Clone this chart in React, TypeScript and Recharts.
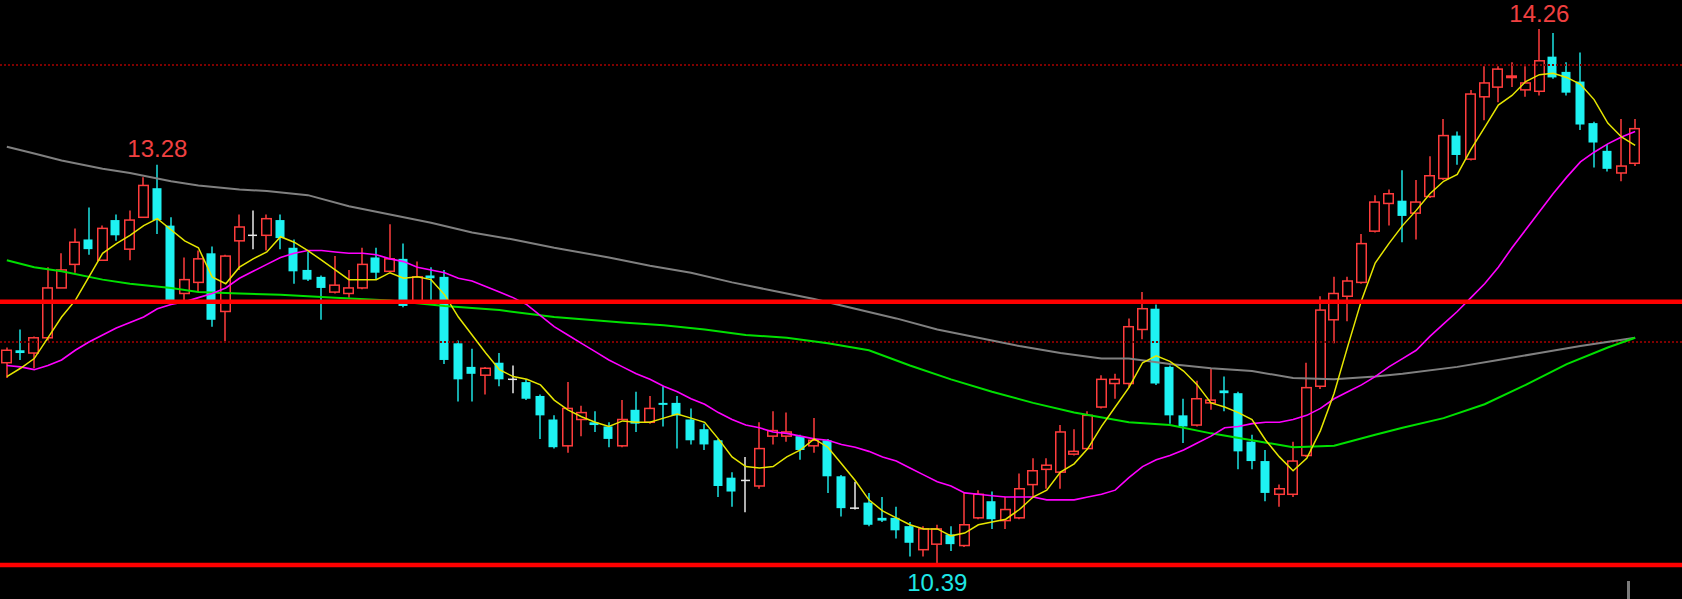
import { ComposedChart, Bar, Line, XAxis, YAxis, ReferenceLine, ReferenceDot } from "recharts";

// daily candles (120 bars)
const opens = [
  11.85, 11.94, 11.92, 12.03, 12.39, 12.56, 12.74, 12.59, 12.88, 12.67, 12.9, 13.11, 12.84, 12.35, 12.43, 12.64, 12.22, 12.73, 12.77, 12.77,
  12.88, 12.68, 12.52, 12.47, 12.36, 12.35, 12.39, 12.61, 12.51, 12.6, 12.29, 12.48, 12.47, 11.99, 11.82, 11.76, 11.85, 11.73, 11.71, 11.61,
  11.44, 11.25, 11.44, 11.42, 11.39, 11.25, 11.51, 11.42, 11.56, 11.56, 11.44, 11.37, 11.29, 11.02, 11.0, 10.96, 11.32, 11.32, 11.32, 11.25,
  11.29, 11.03, 10.8, 10.84, 10.73, 10.73, 10.67, 10.5, 10.54, 10.61, 10.53, 10.73, 10.85, 10.71, 10.73, 10.97, 11.08, 11.06, 11.19, 11.23,
  11.53, 11.7, 11.7, 12.09, 12.24, 11.82, 11.47, 11.4, 11.56, 11.65, 11.63, 11.28, 11.14, 10.9, 10.9, 11.18, 11.68, 12.16, 12.33, 12.43,
  12.8, 13.0, 13.02, 12.93, 13.05, 13.18, 13.49, 13.32, 13.77, 13.84, 13.91, 13.82, 13.81, 14.06, 13.95, 13.88, 13.58, 13.38, 13.22, 13.29,
];
const highs = [
  11.96, 12.09, 12.04, 12.54, 12.64, 12.82, 12.97, 12.84, 12.92, 12.95, 13.19, 13.28, 12.9, 12.61, 12.66, 12.69, 12.63, 12.92, 12.95, 12.92,
  12.92, 12.74, 12.65, 12.48, 12.62, 12.52, 12.68, 12.68, 12.85, 12.71, 12.58, 12.54, 12.52, 12.01, 11.95, 11.82, 11.92, 11.83, 11.73, 11.62,
  11.47, 11.71, 11.54, 11.5, 11.42, 11.58, 11.64, 11.61, 11.68, 11.61, 11.52, 11.41, 11.3, 11.06, 11.17, 11.42, 11.5, 11.49, 11.33, 11.45,
  11.3, 11.04, 10.99, 10.91, 10.88, 10.81, 10.7, 10.67, 10.68, 10.67, 10.91, 10.93, 10.92, 10.88, 11.05, 11.16, 11.16, 11.4, 11.37, 11.5,
  11.76, 11.77, 12.17, 12.36, 12.27, 11.83, 11.59, 11.72, 11.81, 11.75, 11.64, 11.33, 11.22, 10.97, 11.28, 11.85, 12.33, 12.47, 12.47, 12.78,
  13.06, 13.1, 13.24, 13.17, 13.34, 13.61, 13.52, 13.82, 13.99, 13.99, 14.02, 13.99, 14.26, 14.23, 14.02, 14.09, 13.59, 13.43, 13.61, 13.61,
];
const lows = [
  11.74, 11.87, 11.81, 12.01, 12.39, 12.5, 12.63, 12.59, 12.73, 12.59, 12.9, 12.78, 12.29, 12.3, 12.36, 12.11, 12.0, 12.52, 12.67, 12.66,
  12.67, 12.42, 12.44, 12.16, 12.35, 12.32, 12.38, 12.45, 12.51, 12.25, 12.29, 12.3, 11.84, 11.57, 11.57, 11.62, 11.68, 11.63, 11.58, 11.3,
  11.23, 11.2, 11.32, 11.35, 11.24, 11.24, 11.35, 11.41, 11.39, 11.23, 11.26, 11.22, 10.88, 10.81, 10.77, 10.94, 11.26, 11.28, 11.15, 11.2,
  10.91, 10.74, 10.79, 10.67, 10.7, 10.58, 10.45, 10.45, 10.39, 10.49, 10.52, 10.72, 10.65, 10.65, 10.72, 10.88, 10.94, 10.94, 11.18, 11.22,
  11.52, 11.59, 11.67, 12.02, 11.69, 11.41, 11.27, 11.39, 11.51, 11.5, 11.08, 11.08, 10.85, 10.81, 10.88, 11.17, 11.66, 11.99, 12.15, 12.42,
  12.79, 12.84, 12.72, 12.74, 13.04, 13.17, 13.28, 13.31, 13.6, 13.73, 13.84, 13.77, 13.78, 13.9, 13.78, 13.53, 13.26, 13.23, 13.16, 13.27,
];
const closes = [
  11.94, 11.92, 12.03, 12.39, 12.52, 12.72, 12.67, 12.82, 12.77, 12.88, 13.13, 12.88, 12.3, 12.45, 12.6, 12.16, 12.62, 12.83, 12.77, 12.89,
  12.75, 12.51, 12.45, 12.39, 12.41, 12.39, 12.56, 12.5, 12.6, 12.26, 12.47, 12.46, 11.87, 11.73, 11.77, 11.81, 11.73, 11.73, 11.59, 11.47,
  11.24, 11.52, 11.49, 11.4, 11.3, 11.44, 11.41, 11.52, 11.55, 11.47, 11.29, 11.26, 10.96, 10.92, 11.0, 11.23, 11.36, 11.35, 11.22, 11.29,
  11.03, 10.8, 10.8, 10.68, 10.71, 10.64, 10.55, 10.65, 10.65, 10.54, 10.68, 10.9, 10.72, 10.79, 10.94, 11.07, 11.11, 11.35, 11.21, 11.47,
  11.73, 11.73, 12.11, 12.24, 11.7, 11.47, 11.39, 11.59, 11.58, 11.63, 11.21, 11.14, 10.91, 10.94, 11.14, 11.67, 12.23, 12.35, 12.44, 12.71,
  13.01, 13.07, 12.91, 13.01, 13.2, 13.49, 13.35, 13.79, 13.87, 13.97, 13.92, 13.87, 14.03, 13.91, 13.8, 13.57, 13.44, 13.25, 13.27, 13.54,
];

// short average (yellow) and mid average (magenta), one value per bar
const maShort = [
  11.75, 11.81, 11.88, 12.03, 12.18, 12.3, 12.47, 12.64, 12.71, 12.77, 12.84, 12.89, 12.81, 12.73, 12.68, 12.47, 12.42, 12.54, 12.6, 12.65,
  12.76, 12.72, 12.66, 12.59, 12.52, 12.45, 12.45, 12.45, 12.5, 12.46, 12.47, 12.45, 12.34, 12.18, 12.05, 11.92, 11.8, 11.75, 11.73, 11.69,
  11.58, 11.51, 11.46, 11.42, 11.39, 11.43, 11.42, 11.42, 11.45, 11.48, 11.45, 11.42, 11.3, 11.17, 11.1, 11.09, 11.1, 11.17, 11.22, 11.3,
  11.24, 11.12, 11.0, 10.86, 10.78, 10.73, 10.68, 10.65, 10.65, 10.6, 10.62, 10.68, 10.7, 10.72, 10.79, 10.88, 10.93, 11.06, 11.12, 11.23,
  11.39, 11.53, 11.67, 11.85, 11.9, 11.86, 11.79, 11.69, 11.56, 11.53, 11.49, 11.44, 11.29, 11.17, 11.07, 11.16, 11.36, 11.63, 11.97, 12.3,
  12.57, 12.71, 12.84, 12.95, 13.07, 13.16, 13.21, 13.39, 13.55, 13.71, 13.78, 13.88, 13.93, 13.94, 13.91, 13.86, 13.75, 13.58, 13.48, 13.42,
];
const maMid = [
  11.83, 11.82, 11.8, 11.83, 11.87, 11.94, 12.0, 12.05, 12.1, 12.14, 12.18, 12.24, 12.27, 12.29, 12.32, 12.35, 12.39, 12.46, 12.51, 12.56,
  12.61, 12.64, 12.66, 12.66, 12.65, 12.64, 12.64, 12.63, 12.6, 12.58, 12.54, 12.52, 12.5, 12.46, 12.44, 12.4, 12.36, 12.32, 12.27, 12.19,
  12.11, 12.05, 11.99, 11.93, 11.87, 11.82, 11.77, 11.73, 11.68, 11.64, 11.59, 11.55, 11.49, 11.44, 11.4, 11.38, 11.35, 11.34, 11.32, 11.3,
  11.29, 11.26, 11.24, 11.21, 11.17, 11.14, 11.09, 11.04, 10.99, 10.96, 10.91, 10.9, 10.89, 10.88, 10.88, 10.88, 10.86, 10.86, 10.86, 10.88,
  10.9, 10.93, 11.02, 11.1, 11.15, 11.18, 11.22, 11.27, 11.32, 11.38, 11.39, 11.41, 11.42, 11.42, 11.44, 11.47, 11.52, 11.59, 11.64, 11.69,
  11.75, 11.82, 11.88, 11.94, 12.04, 12.13, 12.22, 12.32, 12.42, 12.54, 12.68, 12.81, 12.94, 13.07, 13.19, 13.3, 13.37, 13.43, 13.48, 13.52,
];

// long averages, sampled every few bars: [bar index, value]
const maLong: [number, number][] = [
  [0, 12.59], [2, 12.54], [4, 12.51], [7, 12.45], [9, 12.42], [12, 12.39], [14, 12.36], [17, 12.35], [20, 12.34], [24, 12.32],
  [28, 12.3], [32, 12.26], [36, 12.23], [40, 12.18], [45, 12.14], [48, 12.12], [51, 12.09], [54, 12.05], [57, 12.03], [60, 11.99],
  [63, 11.94], [66, 11.83], [69, 11.73], [72, 11.64], [75, 11.56], [78, 11.49], [82, 11.42], [85, 11.4], [88, 11.34], [91, 11.29],
  [94, 11.24], [97, 11.25], [100, 11.33], [102, 11.38], [105, 11.45], [108, 11.55], [111, 11.69], [114, 11.84], [117, 11.96], [119, 12.03],
];
const maYear: [number, number][] = [
  [0, 13.41], [2, 13.36], [4, 13.31], [7, 13.25], [9, 13.22], [12, 13.16], [14, 13.13], [17, 13.1], [19, 13.09], [22, 13.06],
  [25, 12.98], [28, 12.92], [31, 12.86], [34, 12.79], [37, 12.74], [40, 12.68], [44, 12.61], [47, 12.55], [50, 12.5], [53, 12.43],
  [56, 12.37], [59, 12.31], [62, 12.24], [65, 12.17], [68, 12.09], [71, 12.03], [74, 11.97], [77, 11.92], [80, 11.88], [82, 11.88],
  [85, 11.84], [88, 11.81], [91, 11.79], [94, 11.74], [97, 11.73], [100, 11.75], [102, 11.77], [106, 11.82], [109, 11.87], [112, 11.92],
  [115, 11.97], [119, 12.03],
];

const support = 10.39;
const resistance = 12.29;
const gridLevels = [12, 14];
const highMark = { i: 112, value: 14.26 };
const prevHighMark = { i: 11, value: 13.28 };
const lowMark = { i: 68, value: 10.39 };

const UP = "#ff3c3c";
const DOWN = "#1ef2f2";

const longMap = new Map(maLong);
const yearMap = new Map(maYear);

const rows = opens.map((o, i) => ({
  i,
  open: o,
  high: highs[i],
  low: lows[i],
  close: closes[i],
  range: [lows[i], highs[i]],
  ma5: maShort[i],
  ma20: maMid[i],
  ma60: longMap.get(i) ?? null,
  ma250: yearMap.get(i) ?? null,
}));

function Candle(props: any) {
  const { x, y, width, height, payload } = props;
  const { open, close, high, low } = payload;
  const k = height / (high - low);
  const cx = Math.round(x + width / 2);
  const yo = y + (high - open) * k;
  const yc = y + (high - close) * k;
  const top = Math.min(yo, yc);
  const bot = Math.max(yo, yc);
  const left = Math.round(x);
  const w = Math.round(width);

  if (open === close) {
    return (
      <g>
        <line x1={cx} x2={cx} y1={y} y2={y + height} stroke="#e8e8e8" strokeWidth={1.5} />
        <line x1={left} x2={left + w} y1={yo} y2={yo} stroke="#e8e8e8" strokeWidth={1.5} />
      </g>
    );
  }
  if (close > open) {
    return (
      <g>
        <line x1={cx} x2={cx} y1={y} y2={top} stroke={UP} strokeWidth={1.5} />
        <line x1={cx} x2={cx} y1={bot} y2={y + height} stroke={UP} strokeWidth={1.5} />
        <rect x={left - 0.25} y={top} width={w + 0.5} height={Math.max(1.5, bot - top)} fill="none" stroke={UP} strokeWidth={1.5} />
      </g>
    );
  }
  return (
    <g>
      <line x1={cx} x2={cx} y1={y} y2={y + height} stroke={DOWN} strokeWidth={1.4} />
      <rect x={left - 0.5} y={top} width={w} height={Math.max(2, bot - top)} fill={DOWN} />
    </g>
  );
}

const labelFont = { fontSize: 24, fontFamily: "Liberation Sans, Arial, sans-serif" };

export default function App() {
  return (
    <div style={{ position: "fixed", left: 0, top: 0, width: 1682, height: 599, background: "#000", overflow: "hidden" }}>
      <ComposedChart width={1682} height={599} data={rows} margin={{ top: 0, right: 0, bottom: 0, left: 0 }}>
        <XAxis dataKey="i" type="category" hide padding={{ left: 0, right: 40 }} />
        <YAxis hide domain={[10.144, 14.469]} allowDataOverflow />
        {gridLevels.map((v) => (
          <ReferenceLine key={v} y={v} stroke="#7f0000" strokeWidth={2} strokeDasharray="2 2" />
        ))}
        <Bar dataKey="range" barSize={9} shape={Candle} isAnimationActive={false} />
        <Line dataKey="ma250" stroke="#808080" strokeWidth={2} dot={false} activeDot={false} connectNulls isAnimationActive={false} />
        <Line dataKey="ma60" stroke="#00e000" strokeWidth={2} dot={false} activeDot={false} connectNulls isAnimationActive={false} />
        <Line dataKey="ma20" stroke="#ff00ff" strokeWidth={1.6} dot={false} activeDot={false} isAnimationActive={false} />
        <Line dataKey="ma5" stroke="#e6e600" strokeWidth={1.5} dot={false} activeDot={false} isAnimationActive={false} />
        <ReferenceLine y={resistance} stroke="#ff0000" strokeWidth={4.5} />
        <ReferenceLine y={support} stroke="#ff0000" strokeWidth={4.5} />
        <ReferenceDot
          x={prevHighMark.i}
          y={prevHighMark.value}
          r={0}
          stroke="none"
          label={{ value: prevHighMark.value.toFixed(2), position: "top", offset: 8, fill: "#f04040", ...labelFont }}
        />
        <ReferenceDot
          x={highMark.i}
          y={highMark.value}
          r={0}
          stroke="none"
          label={{ value: highMark.value.toFixed(2), position: "top", offset: 7, fill: "#f04040", ...labelFont }}
        />
        <ReferenceDot
          x={lowMark.i}
          y={lowMark.value}
          r={0}
          stroke="none"
          label={{ value: lowMark.value.toFixed(2), position: "bottom", offset: 9, fill: "#1ee6e6", ...labelFont }}
        />
      </ComposedChart>
      <div style={{ position: "absolute", left: 1627, top: 581, width: 3, height: 18, background: "#7a7a7a" }} />
    </div>
  );
}
